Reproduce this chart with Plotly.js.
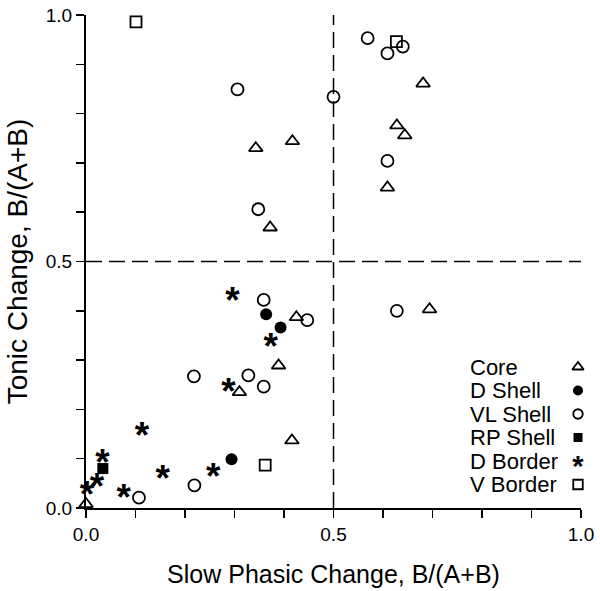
<!DOCTYPE html>
<html>
<head>
<meta charset="utf-8">
<script src="https://cdn.plot.ly/plotly-3.0.1.min.js"></script>
<style>
  html, body { margin: 0; padding: 0; background: #fff; }
  #chart { width: 600px; height: 591px; }
</style>
</head>
<body>
<div id="chart"></div>
<script>
// ---- Data ----
const seriesNames = ["Core", "D Shell", "VL Shell", "RP Shell", "D Border", "V Border"];

const coreX = [0.343, 0.417, 0.372, 0.681, 0.628, 0.644, 0.609, 0.425, 0.389, 0.310, 0.416, 0.000, 0.694];
const coreY = [0.730, 0.744, 0.569, 0.861, 0.776, 0.756, 0.650, 0.387, 0.289, 0.235, 0.137, 0.008, 0.403];

const dShellX = [0.364, 0.393, 0.294];
const dShellY = [0.393, 0.366, 0.099];

const vlShellX = [0.306, 0.500, 0.348, 0.569, 0.640, 0.609, 0.609, 0.359, 0.447, 0.218, 0.328, 0.359, 0.219, 0.107, 0.628];
const vlShellY = [0.849, 0.834, 0.606, 0.953, 0.936, 0.922, 0.704, 0.422, 0.381, 0.267, 0.269, 0.246, 0.046, 0.021, 0.400];

const rpShellX = [0.034];
const rpShellY = [0.080];

const dBorderX = [0.296, 0.373, 0.288, 0.113, 0.033, 0.155, 0.257, 0.022, 0.002, 0.076];
const dBorderY = [0.435, 0.342, 0.250, 0.160, 0.105, 0.074, 0.078, 0.057, 0.041, 0.036];

const vBorderX = [0.101, 0.627, 0.362];
const vBorderY = [0.986, 0.946, 0.087];

const xTickVals = [0, 0.5, 1.0];
const xTickText = ["0.0", "0.5", "1.0"];
const yTickVals = [0, 0.5, 1.0];
const yTickText = ["0.0", "0.5", "1.0"];
const refX = 0.5;   // vertical dashed reference
const refY = 0.5;   // horizontal dashed reference

// ---- Styles / layout constants ----
const FONT = "Arial, 'Liberation Sans', Helvetica, sans-serif";
const STARFONT = "'Liberation Sans', Arial, sans-serif";
const lw = 1.8;
const plotL = 86, plotR = 581, plotT = 15, plotB = 508;
const STAR_SIZE = 37, STAR_SIZE_LEG = 29;

// per-series marker styles (plot, legend)
const styles = [
  { kind: "m", symbol: "triangle-up-open", size: 12, legSize: 10, width: lw },
  { kind: "m", symbol: "circle", size: 12, legSize: 10, width: 0 },
  { kind: "m", symbol: "circle-open", size: 12, legSize: 9.5, width: lw },
  { kind: "m", symbol: "square", size: 11, legSize: 9, width: 0 },
  { kind: "t" },
  { kind: "m", symbol: "square-open", size: 11, legSize: 9.5, width: lw }
];
const seriesX = [coreX, dShellX, vlShellX, rpShellX, dBorderX, vBorderX];
const seriesY = [coreY, dShellY, vlShellY, rpShellY, dBorderY, vBorderY];

const traces = [];
seriesNames.forEach((nm, i) => {
  const s = styles[i];
  const t = { x: seriesX[i], y: seriesY[i], name: nm, type: "scatter", cliponaxis: false, hoverinfo: "x+y+name" };
  if (s.kind === "m") {
    t.mode = "markers";
    t.marker = { symbol: s.symbol, size: s.size, color: "black", line: { color: "black", width: s.width } };
  } else {
    t.mode = "text";
    t.text = seriesX[i].map(() => "*");
    t.textposition = "middle center";
    t.textfont = { family: STARFONT, size: STAR_SIZE, color: "black", weight: "bold" };
  }
  traces.push(t);
});

// legend: text on the left, key symbol on the right (keys on a pixel-unit overlay axis)
const legendTop = 367, legendStep = 23.5, legendTextX = 468, legendKeyX = 578;
const legY = seriesNames.map((_, i) => legendTop + i * legendStep);
seriesNames.forEach((nm, i) => {
  const s = styles[i];
  const t = { x: [legendKeyX], y: [legY[i]], xaxis: "x2", yaxis: "y2", type: "scatter",
              cliponaxis: false, hoverinfo: "skip", showlegend: false };
  if (s.kind === "m") {
    t.mode = "markers";
    t.marker = { symbol: s.symbol, size: s.legSize, color: "black", line: { color: "black", width: s.width } };
  } else {
    t.mode = "text"; t.text = ["*"]; t.textposition = "middle center";
    t.textfont = { family: STARFONT, size: STAR_SIZE_LEG, color: "black", weight: "bold" };
  }
  traces.push(t);
});

const toPaperY = py => (plotB - py) / (plotB - plotT);
const toPaperX = px => (px - plotL) / (plotR - plotL);
const annotations = seriesNames.map((nm, i) => ({
  xref: "paper", yref: "paper", x: toPaperX(legendTextX), y: toPaperY(legY[i]),
  xanchor: "left", yanchor: "middle", text: nm, showarrow: false,
  font: { family: FONT, size: 22, color: "black" }
}));

const axisCommon = {
  range: [0, 1], showgrid: false, zeroline: false, showline: true,
  linecolor: "black", linewidth: 2, ticks: "outside", ticklen: 8, tickwidth: 1.5,
  tickcolor: "black", tickmode: "array",
  tickfont: { family: FONT, size: 19, color: "black" },
  minor: { dtick: 0.1, tick0: 0, ticks: "outside", ticklen: 8, tickwidth: 1.5, tickcolor: "black", showgrid: false },
  fixedrange: true
};

const layout = {
  width: 600, height: 591,
  margin: { l: plotL, r: 600 - plotR, t: plotT, b: 591 - plotB },
  paper_bgcolor: "white", plot_bgcolor: "rgba(0,0,0,0)",
  showlegend: false,
  font: { family: FONT, color: "black" },
  xaxis: Object.assign({}, axisCommon, {
    tickvals: xTickVals, ticktext: xTickText,
    title: { text: "Slow Phasic Change, B/(A+B)", font: { family: FONT, size: 25, color: "black" }, standoff: 22 }
  }),
  yaxis: Object.assign({}, axisCommon, {
    tickvals: yTickVals, ticktext: yTickText,
    title: { text: "Tonic Change, B/(A+B)", font: { family: FONT, size: 28, color: "black" }, standoff: 10 }
  }),
  xaxis2: { domain: [0, 1], range: [plotL, plotR], visible: false, anchor: "y2", fixedrange: true },
  yaxis2: { domain: [0, 1], range: [plotB, plotT], visible: false, anchor: "x2", fixedrange: true },
  shapes: [
    { type: "line", xref: "x", yref: "y", x0: 0, x1: 1, y0: refY, y1: refY,
      line: { color: "black", width: 1.5, dash: "16px,7px" } },
    { type: "line", xref: "x", yref: "y", x0: refX, x1: refX, y0: 0, y1: 1,
      line: { color: "black", width: 1.5, dash: "16px,7px" } }
  ],
  annotations: annotations
};

Plotly.newPlot("chart", traces, layout, { displayModeBar: false, staticPlot: true }).then(() => {
  // nudge asterisk glyphs so their visual centre sits on the data point
  document.querySelectorAll("#chart .scatterlayer .trace .textpoint text").forEach(t => {
    const fs = parseFloat(t.style.fontSize) || STAR_SIZE;
    t.setAttribute("transform", "translate(0," + (0.27 * fs).toFixed(1) + ")");
  });
});
</script>
</body>
</html>
